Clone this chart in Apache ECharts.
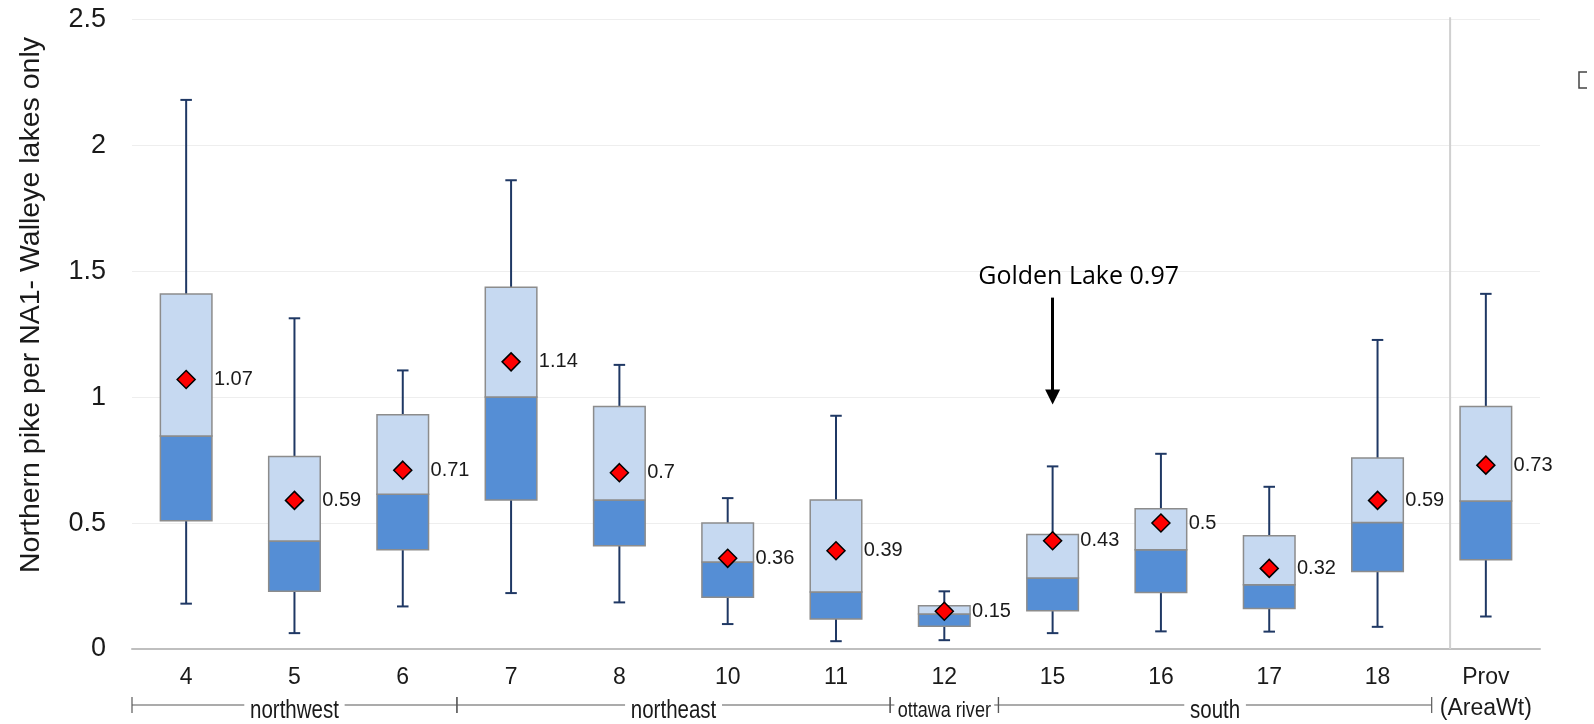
<!DOCTYPE html>
<html>
<head>
<meta charset="utf-8">
<title>Northern pike per NA1 - Walleye lakes</title>
<script src="https://cdn.jsdelivr.net/npm/echarts@6/dist/echarts.min.js"></script>
<style>
  html, body { margin: 0; padding: 0; background: #ffffff; }
  #chart { width: 1594px; height: 724px; }
</style>
</head>
<body>
<div id="chart"></div>
<script>
// Fishing management zones (plus the provincial area-weighted summary)
const categories = ['4', '5', '6', '7', '8', '10', '11', '12', '15', '16', '17', '18', 'Prov\n(AreaWt)'];

// Box-and-whisker statistics per zone
const whiskerLow  = [0.180, 0.063, 0.169, 0.222, 0.185, 0.099, 0.031, 0.035, 0.063, 0.070, 0.069, 0.088, 0.129];
const quartile1   = [0.509, 0.229, 0.394, 0.592, 0.410, 0.205, 0.119, 0.090, 0.152, 0.224, 0.161, 0.308, 0.354];
const medians     = [0.846, 0.429, 0.614, 1.000, 0.592, 0.345, 0.226, 0.139, 0.282, 0.394, 0.255, 0.502, 0.588];
const quartile3   = [1.409, 0.764, 0.930, 1.436, 0.963, 0.500, 0.592, 0.172, 0.455, 0.557, 0.450, 0.758, 0.963];
const whiskerHigh = [2.180, 1.313, 1.106, 1.861, 1.128, 0.599, 0.926, 0.229, 0.725, 0.775, 0.644, 1.227, 1.410];
const means       = [1.07, 0.59, 0.71, 1.14, 0.70, 0.36, 0.39, 0.15, 0.43, 0.50, 0.32, 0.59, 0.73];

// Regional groupings of the zones (first and last category index, inclusive)
const groupNames = ['northwest', 'northeast', 'ottawa river', 'south'];
const groupStart = [0, 3, 7, 8];
const groupEnd   = [2, 6, 7, 11];

// Reference lake highlighted above zone 15
const highlightCategory = '15';
const highlightLabel = 'Golden Lake';
const highlightValue = 0.97;

const yTicks = { min: 0, max: 2.5, interval: 0.5 };
const yAxisTitle = 'Northern pike per NA1- Walleye lakes only';

const FONT = '"Liberation Sans", Arial, sans-serif';

const chart = echarts.init(document.getElementById('chart'), null, { renderer: 'canvas' });

const boxData = categories.map((c, i) => [i, whiskerLow[i], quartile1[i], medians[i], quartile3[i], whiskerHigh[i]]);

function renderBox(params, api) {
  const i = api.value(0);
  const band = api.size([1, 0])[0];
  const bw = band * 0.476;
  const cap = 11.5;
  const pLow = api.coord([i, api.value(1)]);
  const pQ1 = api.coord([i, api.value(2)]);
  const pMed = api.coord([i, api.value(3)]);
  const pQ3 = api.coord([i, api.value(4)]);
  const pHigh = api.coord([i, api.value(5)]);
  const x = pMed[0];
  const whisker = { stroke: '#1F3864', lineWidth: 2 };
  const boxEdge = '#8C8C8C';
  return {
    type: 'group',
    children: [
      { type: 'line', shape: { x1: x, y1: pQ1[1], x2: x, y2: pLow[1] }, style: whisker },
      { type: 'line', shape: { x1: x - cap / 2, y1: pLow[1], x2: x + cap / 2, y2: pLow[1] }, style: whisker },
      { type: 'line', shape: { x1: x, y1: pQ3[1], x2: x, y2: pHigh[1] }, style: whisker },
      { type: 'line', shape: { x1: x - cap / 2, y1: pHigh[1], x2: x + cap / 2, y2: pHigh[1] }, style: whisker },
      { type: 'rect', shape: { x: x - bw / 2, y: pMed[1], width: bw, height: pQ1[1] - pMed[1] },
        style: { fill: '#558ED5', stroke: boxEdge, lineWidth: 1.5 } },
      { type: 'rect', shape: { x: x - bw / 2, y: pQ3[1], width: bw, height: pMed[1] - pQ3[1] },
        style: { fill: '#C6D9F1', stroke: boxEdge, lineWidth: 1.5 } }
    ]
  };
}

// Bracket under the category labels naming each region
function renderGroup(params, api) {
  const k = params.dataIndex;
  const band = api.size([1, 0])[0];
  const cs = params.coordSys;
  const x0 = api.coord([groupStart[k], 0])[0] - band / 2;
  const x1 = api.coord([groupEnd[k], 0])[0] + band / 2;
  const y = cs.y + cs.height + 56;
  const line = { stroke: '#595959', lineWidth: 1.2 };
  const small = groupEnd[k] === groupStart[k];
  return {
    type: 'group',
    children: [
      { type: 'line', shape: { x1: x0, y1: y, x2: x1, y2: y }, style: line },
      { type: 'line', shape: { x1: x0, y1: y - 8, x2: x0, y2: y + 8 }, style: line },
      { type: 'line', shape: { x1: x1, y1: y - 8, x2: x1, y2: y + 8 }, style: line },
      { type: 'text', x: (x0 + x1) / 2, y: y + 6, scaleX: 0.82, scaleY: 1,
        style: { text: groupNames[k], fill: '#1a1a1a', font: (small ? '22px ' : '25px ') + FONT,
                 align: 'center', verticalAlign: 'middle',
                 backgroundColor: '#ffffff', padding: [0, small ? 4 : 7] } }
    ]
  };
}

function renderDivider(params, api) {
  const band = api.size([1, 0])[0];
  const cs = params.coordSys;
  const x = api.coord([api.value(0), 0])[0] - band * 0.33;
  return {
    type: 'line',
    shape: { x1: x, y1: cs.y - 2, x2: x, y2: cs.y + cs.height },
    style: { stroke: '#D0D0D0', lineWidth: 2 }
  };
}

const option = {
  backgroundColor: '#ffffff',
  animation: false,
  grid: { left: 132, right: 54, top: 19.3, bottom: 74.7, containLabel: false },
  xAxis: {
    type: 'category',
    data: categories,
    boundaryGap: true,
    axisLine: { lineStyle: { color: '#BFBFBF', width: 2 } },
    axisTick: { show: false },
    axisLabel: { fontSize: 23, fontFamily: FONT, color: '#1a1a1a', margin: 13, lineHeight: 31, interval: 0 },
    splitLine: { show: false }
  },
  yAxis: {
    type: 'value',
    min: yTicks.min, max: yTicks.max, interval: yTicks.interval,
    axisLine: { show: false },
    axisTick: { show: false },
    axisLabel: { fontSize: 27, fontFamily: FONT, color: '#1a1a1a', margin: 26 },
    splitLine: { lineStyle: { color: '#EEEEEE', width: 1 } }
  },
  graphic: [
    { type: 'text', x: 31, y: 305, rotation: Math.PI / 2,
      style: { text: yAxisTitle, font: '28.5px ' + FONT, fill: '#1a1a1a', align: 'center', verticalAlign: 'middle' } },
    { type: 'polyline', shape: { points: [[1587, 72], [1579, 72], [1579, 88], [1587, 88]] },
      style: { stroke: '#444444', lineWidth: 1.5, fill: null } }
  ],
  series: [
    {
      name: 'divider', type: 'custom', renderItem: renderDivider, silent: true,
      data: [[categories.length - 1, 0]], encode: { x: 0, y: 1 }, z: 1
    },
    {
      name: 'boxes', type: 'custom', renderItem: renderBox, silent: true,
      data: boxData, encode: { x: 0, y: [1, 2, 3, 4, 5] }, z: 2
    },
    {
      name: 'mean', type: 'scatter', data: means, z: 5, silent: true,
      symbol: 'diamond', symbolSize: 18,
      itemStyle: { color: '#FF0000', borderColor: '#000000', borderWidth: 1.5, opacity: 1 },
      label: { show: true, position: 'right', distance: 18, fontSize: 20, fontFamily: FONT, color: '#1a1a1a', formatter: '{c}' },
      markLine: {
        silent: true,
        symbol: ['none', 'triangle'],
        symbolSize: [15, 15],
        lineStyle: { type: 'solid', color: '#000000', width: 3 },
        label: {
          show: true, position: 'start', distance: 8,
          formatter: highlightLabel + ' ' + highlightValue.toFixed(2),
          fontFamily: '"Open Sans", sans-serif', fontSize: 25, color: '#000000',
          padding: [0, 0, 0, 52]
        },
        emphasis: { disabled: true },
        data: [[{ coord: [highlightCategory, 1.395] }, { coord: [highlightCategory, highlightValue + 0.03] }]]
      }
    },
    {
      name: 'groups', type: 'custom', renderItem: renderGroup, silent: true, clip: false,
      data: groupNames.map((n, k) => [groupStart[k], 0]), encode: { x: 0, y: 1 }, z: 3
    }
  ]
};

chart.setOption(option);
</script>
</body>
</html>
